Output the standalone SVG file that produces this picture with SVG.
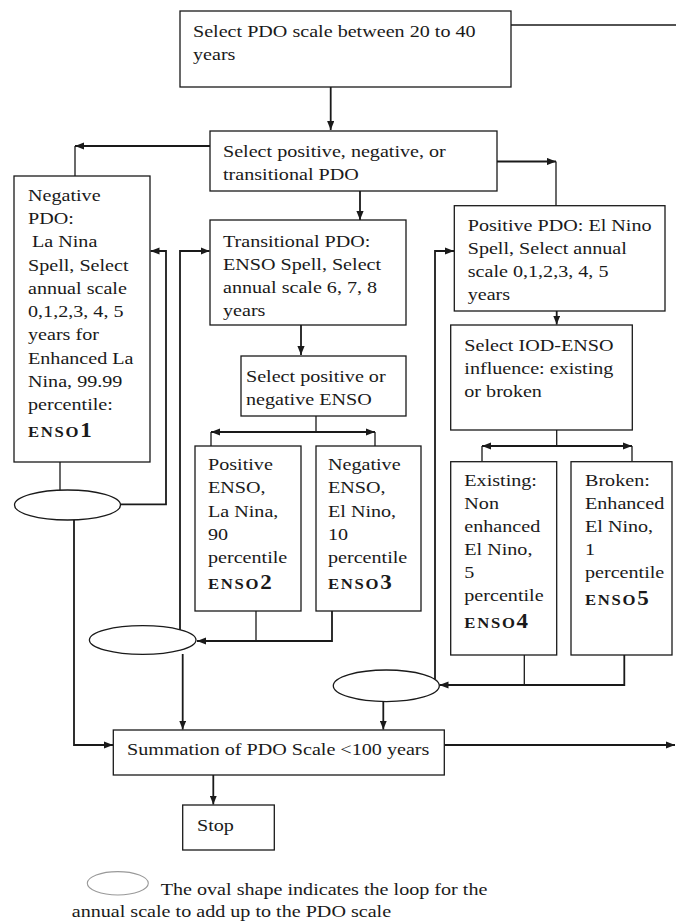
<svg xmlns="http://www.w3.org/2000/svg" width="676" height="924" viewBox="0 0 676 924">
<defs>
<style>
.box{fill:#fff;stroke:#1a1a1a;stroke-width:1.3}
.ov{fill:#fff;stroke:#1a1a1a;stroke-width:1.3}
.ln{fill:none;stroke:#1a1a1a;stroke-width:1.3}
.ar{fill:none;stroke:#1a1a1a;stroke-width:1.8;marker-end:url(#ah)}
.dar{fill:none;stroke:#1a1a1a;stroke-width:1.8;marker-end:url(#ah);marker-start:url(#ah)}
text{font-family:"Liberation Serif","Times New Roman",serif;font-size:17.5px;fill:#1a1a1a}
.e{font-weight:bold;font-size:14.5px;letter-spacing:1.5px}
.d{font-weight:bold;font-size:20px}
</style>
<marker id="ah" viewBox="0 0 10 8" refX="10" refY="4" markerWidth="9" markerHeight="7.5" markerUnits="userSpaceOnUse" orient="auto-start-reverse">
<path d="M0,0 L10,4 L0,8 z" fill="#1a1a1a"/>
</marker>
</defs>
<rect width="676" height="924" fill="#fff"/>

<g id="connectors">
<path class="ln" d="M511,25 H676"/>
<path class="ar" d="M330.7,87 V130"/>
<path class="ar" d="M210,146 H75"/>
<path class="ln" d="M75,146 V176"/>
<path class="ar" d="M497,161.5 H556"/>
<path class="ln" d="M556,161.5 V206"/>
<path class="ar" d="M360,191 V220"/>
<path class="ar" d="M301,325 V355"/>
<path class="ln" d="M316,416 V432"/>
<path class="dar" d="M211,432 H375"/>
<path class="ln" d="M211,432 V446 M375,432 V446"/>
<path class="ln" d="M256,611 V641"/>
<path class="ar" d="M332,611 V641 H197"/>
<path class="ar" d="M180,630 V251 H209.5"/>
<path class="ar" d="M182.7,654 V729.5"/>
<path class="ln" d="M60,462 V490"/>
<path class="ar" d="M120.5,504.3 H166 V251 H150.5"/>
<path class="ar" d="M74,520 V745 H113"/>
<path class="ar" d="M444.3,745 H675"/>
<path class="ar" d="M213.3,775 V804.5"/>
<path class="ar" d="M556.7,311 V324.5"/>
<path class="ln" d="M556.7,430 V446"/>
<path class="dar" d="M482,446 H632"/>
<path class="ln" d="M482,446 V461.7 M632,446 V461.7"/>
<path class="ln" d="M524.3,655 V685"/>
<path class="ar" d="M624.3,655 V685 H439.5"/>
<path class="ar" d="M435,679 V251 H454"/>
<path class="ar" d="M383.3,701.6 V729.5"/>
</g>

<g id="n-start">
<rect class="box" x="180" y="11" width="331" height="76"/>
<text transform="translate(193,37) scale(1.15,1)"><tspan x="0">Select PDO scale between 20 to 40</tspan><tspan x="0" dy="23">years</tspan></text>
</g>

<g id="n-select-pdo">
<rect class="box" x="210" y="131" width="287" height="60"/>
<text transform="translate(223,157) scale(1.15,1)"><tspan x="0">Select positive, negative, or</tspan><tspan x="0" dy="23">transitional PDO</tspan></text>
</g>

<g id="n-negative-pdo">
<rect class="box" x="14" y="176" width="136" height="286"/>
<text transform="translate(28,200.7) scale(1.15,1)"><tspan x="0">Negative</tspan><tspan x="0" dy="23.3">PDO:</tspan><tspan x="3.5" dy="23.3">La Nina</tspan><tspan x="0" dy="23.3">Spell, Select</tspan><tspan x="0" dy="23.3">annual scale</tspan><tspan x="0" dy="23.3">0,1,2,3, 4, 5</tspan><tspan x="0" dy="23.3">years for</tspan><tspan x="0" dy="23.3">Enhanced La</tspan><tspan x="0" dy="23.3">Nina, 99.99</tspan><tspan x="0" dy="23.3">percentile:</tspan><tspan x="0" dy="26.5" class="e">ENSO</tspan><tspan class="d">1</tspan></text>
</g>

<g id="n-transitional">
<rect class="box" x="210" y="220" width="196" height="105"/>
<text transform="translate(223,247) scale(1.15,1)"><tspan x="0">Transitional PDO:</tspan><tspan x="0" dy="23">ENSO Spell, Select</tspan><tspan x="0" dy="23">annual scale 6, 7, 8</tspan><tspan x="0" dy="23">years</tspan></text>
</g>

<g id="n-select-enso">
<rect class="box" x="241" y="356" width="165" height="60"/>
<text transform="translate(246,382) scale(1.15,1)"><tspan x="0">Select positive or</tspan><tspan x="0" dy="23">negative ENSO</tspan></text>
</g>

<g id="n-enso2">
<rect class="box" x="195" y="446" width="106" height="165"/>
<text transform="translate(208,470) scale(1.15,1)"><tspan x="0">Positive</tspan><tspan x="0" dy="23.3">ENSO,</tspan><tspan x="0" dy="23.3">La Nina,</tspan><tspan x="0" dy="23.3">90</tspan><tspan x="0" dy="23.3">percentile</tspan><tspan x="0" dy="26" class="e">ENSO</tspan><tspan class="d">2</tspan></text>
</g>

<g id="n-enso3">
<rect class="box" x="316" y="446" width="105" height="165"/>
<text transform="translate(328,470) scale(1.15,1)"><tspan x="0">Negative</tspan><tspan x="0" dy="23.3">ENSO,</tspan><tspan x="0" dy="23.3">El Nino,</tspan><tspan x="0" dy="23.3">10</tspan><tspan x="0" dy="23.3">percentile</tspan><tspan x="0" dy="26" class="e">ENSO</tspan><tspan class="d">3</tspan></text>
</g>

<g id="n-positive-pdo">
<rect class="box" x="454.3" y="205.7" width="210.7" height="105.3"/>
<text transform="translate(467.7,230.7) scale(1.15,1)"><tspan x="0">Positive PDO: El Nino</tspan><tspan x="0" dy="23">Spell, Select annual</tspan><tspan x="0" dy="23">scale 0,1,2,3, 4, 5</tspan><tspan x="0" dy="23">years</tspan></text>
</g>

<g id="n-iod">
<rect class="box" x="450.7" y="325" width="181.6" height="105"/>
<text transform="translate(464.3,350.7) scale(1.15,1)"><tspan x="0">Select IOD-ENSO</tspan><tspan x="0" dy="23">influence: existing</tspan><tspan x="0" dy="23">or broken</tspan></text>
</g>

<g id="n-enso4">
<rect class="box" x="450.7" y="461.7" width="106" height="193.3"/>
<text transform="translate(464.3,486) scale(1.15,1)"><tspan x="0">Existing:</tspan><tspan x="0" dy="23">Non</tspan><tspan x="0" dy="23">enhanced</tspan><tspan x="0" dy="23">El Nino,</tspan><tspan x="0" dy="23">5</tspan><tspan x="0" dy="23">percentile</tspan><tspan x="0" dy="27" class="e">ENSO</tspan><tspan class="d">4</tspan></text>
</g>

<g id="n-enso5">
<rect class="box" x="571" y="461.7" width="101" height="193.3"/>
<text transform="translate(585,486) scale(1.15,1)"><tspan x="0">Broken:</tspan><tspan x="0" dy="23">Enhanced</tspan><tspan x="0" dy="23">El Nino,</tspan><tspan x="0" dy="23">1</tspan><tspan x="0" dy="23">percentile</tspan><tspan x="0" dy="27" class="e">ENSO</tspan><tspan class="d">5</tspan></text>
</g>

<g id="n-loop1"><ellipse class="ov" cx="67.5" cy="505" rx="53" ry="15"/></g>
<g id="n-loop2"><ellipse class="ov" cx="142.7" cy="640" rx="53.3" ry="14.3"/></g>
<g id="n-loop3"><ellipse class="ov" cx="386.3" cy="685.8" rx="53" ry="15.8"/></g>

<g id="n-summation">
<rect class="box" x="113.3" y="730" width="331" height="45"/>
<text transform="translate(127,755) scale(1.15,1)">Summation of PDO Scale &lt;100 years</text>
</g>

<g id="n-stop">
<rect class="box" x="182.7" y="805" width="91.6" height="45"/>
<text transform="translate(197,831) scale(1.15,1)">Stop</text>
</g>

<g id="legend">
<ellipse cx="117.8" cy="883.3" rx="30.5" ry="11.7" fill="#fff" stroke="#999" stroke-width="1.1"/>
<text transform="translate(160.7,895) scale(1.15,1)">The oval shape indicates the loop for the</text>
<text transform="translate(71.7,917) scale(1.15,1)">annual scale to add up to the PDO scale</text>
</g>
</svg>
